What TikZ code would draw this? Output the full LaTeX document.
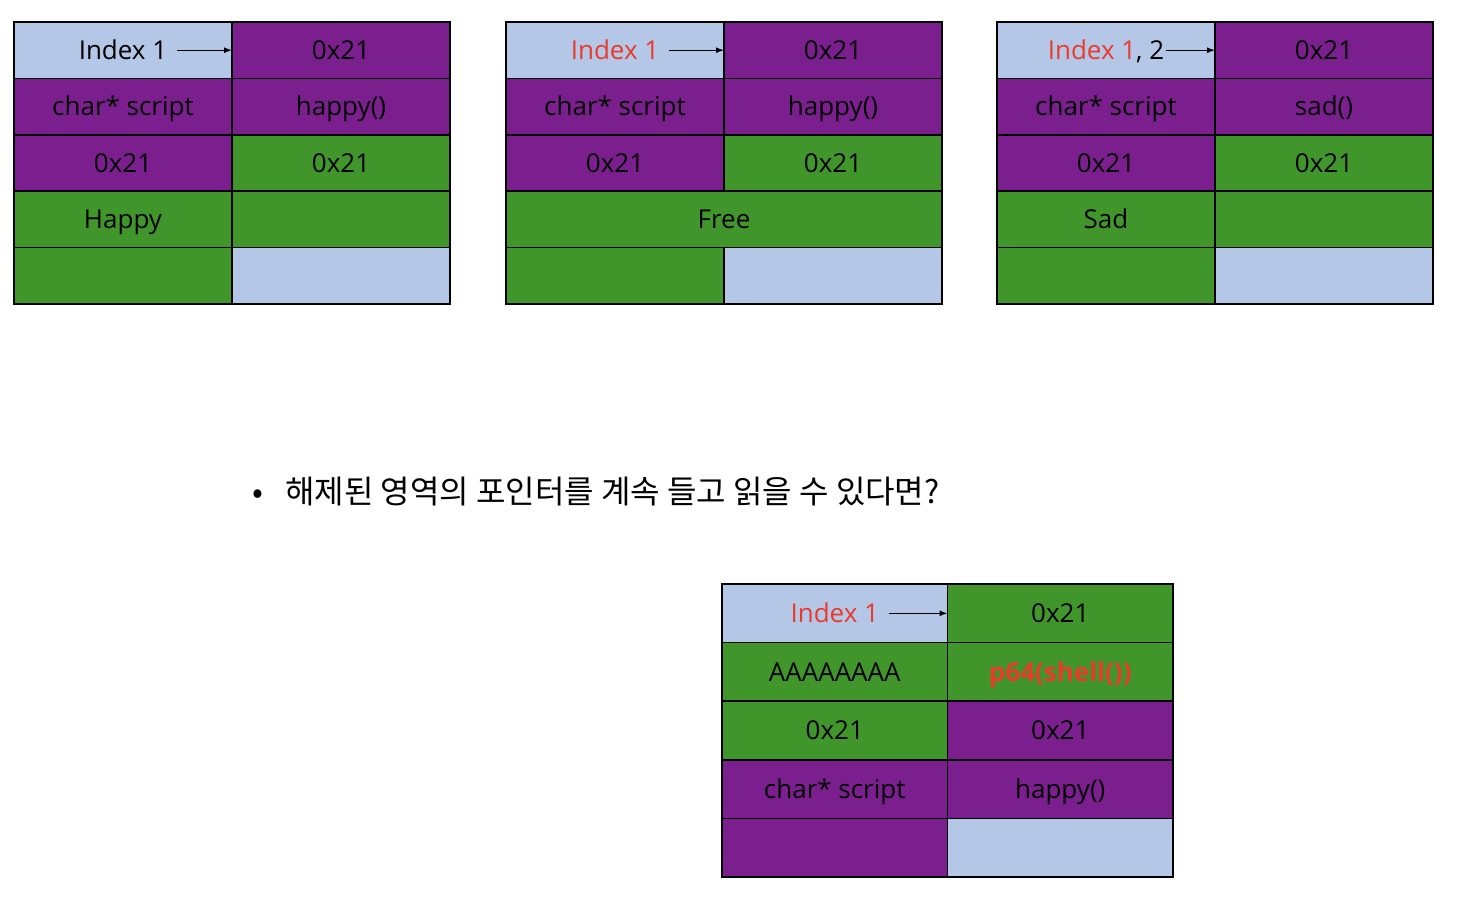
\documentclass[tikz,border=0pt]{standalone}
\usepackage{fontspec}
\setmainfont{Open Sans}
\newfontfamily\krfont{Noto Sans CJK KR}
\usetikzlibrary{arrows.meta,positioning}
\definecolor{hpBlue}  {HTML}{B4C7E7}
\definecolor{hpPurple}{HTML}{7B1F8F}
\definecolor{hpGreen} {HTML}{40962B}
\definecolor{hpRed}   {HTML}{EA3A2C}
\newcommand\cellfont{\fontsize{26}{30}\selectfont}

\begin{document}
\begin{tikzpicture}[x=1pt,y=-1pt,
      cell/.style={draw=black,line width=1.6pt,inner sep=0pt,outer sep=0pt,anchor=north west,
                   minimum width=218pt,minimum height=56.4pt,font=\cellfont,
                   text height=24pt,text depth=5.4pt},
      big/.style={minimum width=225.5pt,minimum height=58.6pt},
      pu/.style={cell,fill=hpPurple},
      gr/.style={cell,fill=hpGreen},
      bl/.style={cell,fill=hpBlue},
      idx/.style={font=\cellfont,inner sep=0pt,outer xsep=10pt,text height=24pt,text depth=5.4pt},
      ptr/.style={-{Latex[length=8pt,width=6pt]},line width=1.3pt}]

    \useasboundingbox (0,0) rectangle (1458,898);

    % chunk state 1: allocated "Happy"
    \node[bl] (a1l) at (14,22)    {};
    \node[pu] (a1r) at (232,22)   {0x21};
    \node[pu] (a2l) at (14,78.4)  {char* script};
    \node[pu] (a2r) at (232,78.4) {happy()};
    \node[pu] (a3l) at (14,134.8) {0x21};
    \node[gr] (a3r) at (232,134.8){0x21};
    \node[gr] (a4l) at (14,191.2) {Happy};
    \node[gr] (a4r) at (232,191.2){};
    \node[gr] (a5l) at (14,247.6) {};
    \node[bl] (a5r) at (232,247.6){};
    \node[idx] (ia) at (a1l.center) {Index 1};

    % chunk state 2: freed
    \node[bl] (b1l) at (506,22)    {};
    \node[pu] (b1r) at (724,22)    {0x21};
    \node[pu] (b2l) at (506,78.4)  {char* script};
    \node[pu] (b2r) at (724,78.4)  {happy()};
    \node[pu] (b3l) at (506,134.8) {0x21};
    \node[gr] (b3r) at (724,134.8) {0x21};
    \node[gr,minimum width=436pt] (b4) at (506,191.2) {Free};
    \node[gr] (b5l) at (506,247.6) {};
    \node[bl] (b5r) at (724,247.6) {};
    \node[idx,text=hpRed] (ib) at (b1l.center) {Index 1};

    % chunk state 3: reused by "Sad"
    \node[bl] (c1l) at (997,22)     {};
    \node[pu] (c1r) at (1215,22)    {0x21};
    \node[pu] (c2l) at (997,78.4)   {char* script};
    \node[pu] (c2r) at (1215,78.4)  {sad()};
    \node[pu] (c3l) at (997,134.8)  {0x21};
    \node[gr] (c3r) at (1215,134.8) {0x21};
    \node[gr] (c4l) at (997,191.2)  {Sad};
    \node[gr] (c4r) at (1215,191.2) {};
    \node[gr] (c5l) at (997,247.6)  {};
    \node[bl] (c5r) at (1215,247.6) {};
    \node[idx,outer xsep=2pt] (ic) at (c1l.center) {\textcolor{hpRed}{Index 1}, 2};

    \foreach \a/\b in {ia/a1r,ib/b1r,ic/c1r}
      \draw[ptr] (\a.east) -- (\b.west);

    \node[anchor=west,font=\fontsize{32}{38}\selectfont\krfont] (q) at (249,492)
      {\textbullet\hspace{22pt}해제된 영역의 포인터를 계속 들고 읽을 수 있다면?};

    % dangling pointer overwrites the function slot
    \node[bl,big] (d1l) at (722,584)     {};
    \node[gr,big] (d1r) at (947.5,584)   {0x21};
    \node[gr,big] (d2l) at (722,642.6)   {AAAAAAAA};
    \node[gr,big,text=hpRed,font=\cellfont\bfseries] (d2r) at (947.5,642.6) {p64(shell())};
    \node[gr,big] (d3l) at (722,701.2)   {0x21};
    \node[pu,big] (d3r) at (947.5,701.2) {0x21};
    \node[pu,big] (d4l) at (722,759.8)   {char* script};
    \node[pu,big] (d4r) at (947.5,759.8) {happy()};
    \node[pu,big] (d5l) at (722,818.4)   {};
    \node[bl,big] (d5r) at (947.5,818.4) {};
    \node[idx,text=hpRed] (id) at (d1l.center) {Index 1};
    \draw[ptr] (id.east) -- (d1r.west);
  \end{tikzpicture}
\end{document}
